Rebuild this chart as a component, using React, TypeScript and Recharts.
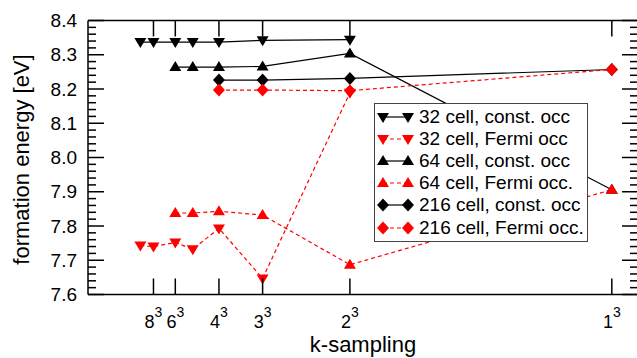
import React from 'react';
import { LineChart, Line, XAxis, YAxis, Legend, Label } from 'recharts';

// k-point grids (n for an n^3 sampling), x position is 1/n
const kTickGrids = [8, 6, 4, 3, 2, 1];

const grid32 = [10, 8, 6, 5, 4, 3, 2];
const const32 = [8.337, 8.337, 8.337, 8.337, 8.337, 8.342, 8.344];
const fermi32 = [7.743, 7.740, 7.752, 7.732, 7.793, 7.647, 8.189];

const grid64 = [6, 5, 4, 3, 2, 1];
const const64 = [8.264, 8.264, 8.264, 8.266, 8.304, 7.906];
const fermi64 = [7.838, 7.838, 7.843, 7.832, 7.687, 7.906];

const grid216 = [4, 3, 2, 1];
const const216 = [8.226, 8.226, 8.231, 8.257];
const fermi216 = [8.197, 8.197, 8.195, 8.257];

const yMajor = [7.6, 7.7, 7.8, 7.9, 8.0, 8.1, 8.2, 8.3, 8.4];

const FONT = '"Liberation Sans", Arial, Helvetica, sans-serif';
const RED = '#ff0000';

const toPts = (grid: number[], vals: number[]) => grid.map((n, i) => ({ x: 1 / n, y: vals[i] }));

type Shape = 'down' | 'up' | 'diamond';

const seriesList: { name: string; data: { x: number; y: number }[]; color: string; dashed: boolean; shape: Shape }[] = [
  { name: '32 cell, const. occ', data: toPts(grid32, const32), color: '#000', dashed: false, shape: 'down' },
  { name: '32 cell, Fermi occ', data: toPts(grid32, fermi32), color: RED, dashed: true, shape: 'down' },
  { name: '64 cell, const. occ', data: toPts(grid64, const64), color: '#000', dashed: false, shape: 'up' },
  { name: '64 cell, Fermi occ.', data: toPts(grid64, fermi64), color: RED, dashed: true, shape: 'up' },
  { name: '216 cell, const. occ', data: toPts(grid216, const216), color: '#000', dashed: false, shape: 'diamond' },
  { name: '216 cell, Fermi occ.', data: toPts(grid216, fermi216), color: RED, dashed: true, shape: 'diamond' },
];

const yTicks: number[] = [];
for (let i = 0; i <= 40; i++) yTicks.push(Math.round((7.6 + i * 0.02) * 100) / 100);
const xTicks = kTickGrids.map((n) => 1 / n);

function markerPath(shape: Shape, cx: number, cy: number) {
  if (shape === 'down') return `M${cx - 6},${cy - 4}L${cx + 6},${cy - 4}L${cx},${cy + 6}Z`;
  if (shape === 'up') return `M${cx - 6},${cy + 4}L${cx + 6},${cy + 4}L${cx},${cy - 6}Z`;
  return `M${cx},${cy - 6.5}L${cx + 6},${cy}L${cx},${cy + 6.5}L${cx - 6},${cy}Z`;
}

const makeDot = (shape: Shape, color: string) => (props: any) => {
  const { cx, cy, index } = props;
  if (cx == null || cy == null) return <g key={`d${index}`} />;
  return <path key={`d${index}`} d={markerPath(shape, cx, cy)} fill={color} stroke="none" />;
};

const isMajor = (v: number) => yMajor.some((m) => Math.abs(m - v) < 1e-6);

const LeftTick = (props: any) => {
  const { x, y, payload } = props;
  const major = isMajor(payload.value);
  return (
    <g>
      <line x1={x} x2={x + (major ? 16 : 8)} y1={y} y2={y} stroke="#000" strokeWidth={1.5} />
      {major && (
        <text x={x - 11} y={y} textAnchor="end" dominantBaseline="central" fontSize={19} fontFamily={FONT} fill="#000">
          {payload.value.toFixed(1)}
        </text>
      )}
    </g>
  );
};

const RightTick = (props: any) => {
  const { x, y, payload } = props;
  const major = isMajor(payload.value);
  return <line x1={x} x2={x - (major ? 16 : 8)} y1={y} y2={y} stroke="#000" strokeWidth={1.5} />;
};

const BottomTick = (props: any) => {
  const { x, y, payload, index } = props;
  const n = kTickGrids[index] ?? Math.round(1 / payload.value);
  return (
    <g>
      <line x1={x} x2={x} y1={y} y2={y - 16} stroke="#000" strokeWidth={1.5} />
      <text x={x} y={y + 33.5} textAnchor="middle" fontSize={18} fontFamily={FONT} fill="#000">
        <tspan>{n}</tspan>
        <tspan fontSize={14} dy={-11}>3</tspan>
      </text>
    </g>
  );
};

const TopTick = (props: any) => {
  const { x, y } = props;
  return <line x1={x} x2={x} y1={y} y2={y + 16} stroke="#000" strokeWidth={1.5} />;
};

const YTitle = (props: any) => {
  const vb = props.viewBox || { x: 0, y: 20, width: 88, height: 274 };
  const cx = vb.x + 21;
  const cy = vb.y + vb.height / 2 + 2;
  return (
    <text x={cx} y={cy} transform={`rotate(-90 ${cx} ${cy})`} textAnchor="middle" dominantBaseline="central" fontSize={22} fontFamily={FONT} fill="#000">
      formation energy [eV]
    </text>
  );
};

const XTitle = (props: any) => {
  const vb = props.viewBox || { x: 88, y: 294.5, width: 550, height: 63.5 };
  return (
    <text x={vb.x + vb.width / 2} y={vb.y + 57} textAnchor="middle" fontSize={22} fontFamily={FONT} fill="#000">
      k-sampling
    </text>
  );
};

const LegendSymbol = ({ color, dashed, shape }: { color: string; dashed: boolean; shape: Shape }) => (
  <svg width={44} height={22} style={{ display: 'block', flex: '0 0 auto' }}>
    <line x1={8} x2={33} y1={11} y2={11} stroke={color} strokeWidth={1.2} strokeDasharray={dashed ? '4 3' : undefined} />
    <path d={markerPath(shape, 8, 11)} fill={color} />
    <path d={markerPath(shape, 33, 11)} fill={color} />
  </svg>
);

const renderLegend = () => (
  <div
    style={{
      boxSizing: 'border-box',
      width: 214,
      height: 139,
      border: '1px solid #444',
      background: '#fff',
      paddingTop: 2,
      fontFamily: FONT,
      fontSize: 19,
      color: '#000',
    }}
  >
    {seriesList.map((s) => (
      <div key={s.name} style={{ display: 'flex', alignItems: 'center', height: 22.1, lineHeight: '22px', whiteSpace: 'nowrap' }}>
        <LegendSymbol color={s.color} dashed={s.dashed} shape={s.shape} />
        <span>{s.name}</span>
      </div>
    ))}
  </div>
);

export default function App() {
  return (
    <div style={{ position: 'fixed', left: 0, top: 0, width: 637, height: 358, overflow: 'hidden', background: '#fff' }}>
      <LineChart width={648} height={358} margin={{ top: 0, right: 0, bottom: 0, left: 0 }}>
        <XAxis
          xAxisId="bottom"
          orientation="bottom"
          type="number"
          dataKey="x"
          domain={[0, 1.05]}
          ticks={xTicks}
          interval={0}
          allowDataOverflow
          height={63.5}
          tickSize={0}
          tickMargin={0}
          tickLine={false}
          tick={<BottomTick />}
          axisLine={{ stroke: '#000', strokeWidth: 1.5 }}
        >
          <Label content={<XTitle />} />
        </XAxis>
        <XAxis
          xAxisId="top"
          orientation="top"
          type="number"
          dataKey="x"
          domain={[0, 1.05]}
          ticks={xTicks}
          interval={0}
          allowDataOverflow
          height={20.5}
          tickSize={0}
          tickMargin={0}
          tickLine={false}
          tick={<TopTick />}
          axisLine={{ stroke: '#000', strokeWidth: 1.5 }}
        />
        <YAxis
          yAxisId="left"
          orientation="left"
          type="number"
          domain={[7.6, 8.4]}
          ticks={yTicks}
          interval={0}
          allowDataOverflow
          width={88}
          tickSize={0}
          tickMargin={0}
          tickLine={false}
          tick={<LeftTick />}
          axisLine={{ stroke: '#000', strokeWidth: 1.5 }}
        >
          <Label content={<YTitle />} />
        </YAxis>
        <YAxis
          yAxisId="right"
          orientation="right"
          type="number"
          domain={[7.6, 8.4]}
          ticks={yTicks}
          interval={0}
          allowDataOverflow
          width={10}
          tickSize={0}
          tickMargin={0}
          tickLine={false}
          tick={<RightTick />}
          axisLine={{ stroke: '#000', strokeWidth: 1.5 }}
        />
        {seriesList.map((s) => (
          <Line
            key={s.name}
            xAxisId="bottom"
            yAxisId="left"
            data={s.data}
            dataKey="y"
            name={s.name}
            type="linear"
            stroke={s.color}
            strokeWidth={1.2}
            strokeDasharray={s.dashed ? '4 3' : undefined}
            dot={makeDot(s.shape, s.color)}
            activeDot={false}
            isAnimationActive={false}
          />
        ))}
        <Legend
          layout="vertical"
          align="center"
          verticalAlign="middle"
          content={renderLegend}
          wrapperStyle={{ left: 374, top: 103, width: 214, height: 139 }}
        />
      </LineChart>
    </div>
  );
}
